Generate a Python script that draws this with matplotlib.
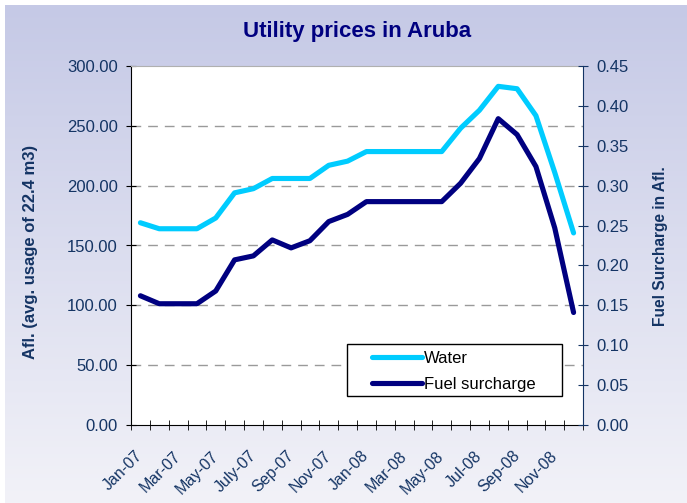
import matplotlib
matplotlib.use("Agg")
import matplotlib.pyplot as plt
from matplotlib.patches import Rectangle
from matplotlib.transforms import ScaledTranslation
import numpy as np

plt.rcParams["font.family"] = ["Liberation Sans", "DejaVu Sans"]

## monthly values Jan-07 .. Dec-08
months = ["Jan-07", "Feb-07", "Mar-07", "Apr-07", "May-07", "Jun-07",
          "July-07", "Aug-07", "Sep-07", "Oct-07", "Nov-07", "Dec-07",
          "Jan-08", "Feb-08", "Mar-08", "Apr-08", "May-08", "Jun-08",
          "Jul-08", "Aug-08", "Sep-08", "Oct-08", "Nov-08", "Dec-08"]
water = [169, 164, 164, 164, 173, 194, 197.5, 206, 206, 206, 217, 220.5,
         228.5, 228.5, 228.5, 228.5, 228.5, 248, 263, 283, 281, 258.5, 211, 160.5]
fuel = [0.162, 0.152, 0.152, 0.152, 0.168, 0.207, 0.212, 0.232, 0.222, 0.231,
        0.255, 0.264, 0.28, 0.28, 0.28, 0.28, 0.28, 0.303, 0.334, 0.384,
        0.364, 0.324, 0.247, 0.141]

left_ticks = [0, 50, 100, 150, 200, 250, 300]
right_ticks = [0, 0.05, 0.10, 0.15, 0.20, 0.25, 0.30, 0.35, 0.40, 0.45]

navy = "#000080"
cyan = "#00CCFF"
txt = "#143464"

fig = plt.figure(figsize=(6.87, 5.03), dpi=100)

# gradient background
bg = fig.add_axes([5 / 687, 0, 1 - 5 / 687, 1 - 5 / 503], zorder=-10)
grad = np.linspace(0, 1, 256).reshape(-1, 1)
top = np.array([0xC5, 0xC9, 0xE6]) / 255
bot = np.array([0xF2, 0xF2, 0xF8]) / 255
img = top[None, None, :] * (1 - grad[:, :, None]) + bot[None, None, :] * grad[:, :, None]
bg.imshow(img, aspect="auto", extent=[0, 1, 0, 1])
bg.axis("off")

ax = fig.add_axes([131 / 687, 1 - 425 / 503, 452 / 687, 359 / 503])
ax.set_facecolor("white")
x = np.arange(len(months))

l1, = ax.plot(x, water, color=cyan, lw=3.7, solid_capstyle="round",
              solid_joinstyle="round", label="Water", zorder=3)
ax.set_ylim(0, 300)
ax.set_xlim(-0.5, len(months) - 0.5)
ax.set_yticks(left_ticks)
ax.set_yticklabels([f"{v:.2f}" for v in left_ticks], color=txt, fontsize=12)
for v in left_ticks[1:-1]:
    ax.axhline(v, color="#9a9a9a", lw=1, ls=(0, (7, 5)), zorder=1)

ax.set_xticks(x[::2])
ax.set_xticklabels(months[::2], rotation=45, ha="right", va="center",
                   rotation_mode="anchor", color=txt, fontsize=11.5)
shift = ScaledTranslation(-8 / 100, 0, fig.dpi_scale_trans)
for lab in ax.get_xticklabels():
    lab.set_transform(lab.get_transform() + shift)
ax.set_xticks(np.arange(-0.5, len(months)), minor=True)
ax.tick_params(axis="x", which="major", length=0, pad=20.5)
ax.tick_params(axis="x", which="minor", length=7, direction="inout", color="black")
ax.tick_params(axis="y", length=7, direction="inout", color="black", pad=6)

ax.spines["left"].set_color("black")
ax.spines["bottom"].set_color("black")
ax.spines["top"].set_color("#b0b0b0")
ax.spines["right"].set_visible(False)

ax2 = ax.twinx()
l2, = ax2.plot(x, fuel, color=navy, lw=3.7, solid_capstyle="round",
               solid_joinstyle="round", label="Fuel surcharge", zorder=3)
ax2.set_ylim(0, 0.45)
ax2.set_yticks(right_ticks)
ax2.set_yticklabels([f"{v:.2f}" for v in right_ticks], color=txt, fontsize=12)
ax2.tick_params(axis="y", length=7, direction="inout", color=txt, pad=6)
for s in ["left", "top", "bottom"]:
    ax2.spines[s].set_visible(False)
ax2.spines["right"].set_color(txt)

# axis titles
fig.text(31 / 687, 1 - 252 / 503, "Afl. (avg. usage of 22.4 m3)", rotation=90,
         ha="center", va="center", color=txt, fontsize=12, fontweight="bold")
fig.text(661 / 687, 1 - 246 / 503, "Fuel Surcharge in Afl.", rotation=90,
         ha="center", va="center", color=txt, fontsize=11.2, fontweight="bold")

# legend: box drawn separately, entries placed inside it
ax2.add_patch(Rectangle((216 / 452, 29 / 359), 215 / 452, 52 / 359,
                        transform=ax2.transAxes, facecolor="white",
                        edgecolor="black", lw=1, zorder=4))
leg = ax2.legend([l1, l2], ["Water", "Fuel surcharge"], loc="upper left",
                 bbox_to_anchor=(241 / 452, 74 / 359), fontsize=12,
                 frameon=False, handlelength=3.0, handletextpad=0.1,
                 borderpad=0, labelspacing=0.67, borderaxespad=0)
leg.set_zorder(5)

fig.text(357 / 687, 1 - 37 / 503, "Utility prices in Aruba", ha="center",
         va="baseline", fontsize=16, fontweight="bold", color=navy)

fig.savefig("out.png", dpi=100)
